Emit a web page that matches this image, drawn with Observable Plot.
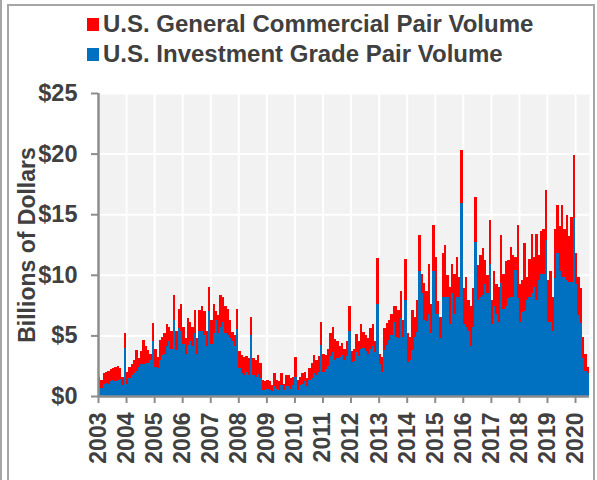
<!DOCTYPE html>
<html>
<head>
<meta charset="utf-8">
<script src="https://cdn.jsdelivr.net/npm/d3@7"></script>
<script src="https://cdn.jsdelivr.net/npm/@observablehq/plot@0.6"></script>
<style>
  html, body { margin: 0; padding: 0; background: #ffffff; }
  #wrap { position: relative; width: 597px; height: 480px; overflow: hidden; font-family: "Liberation Sans", Arial, sans-serif; }
  #chart { position: absolute; left: 0; top: 0; }
  .edge1 { position: absolute; left: 0; top: 0; width: 2px; height: 480px; background: #a6a6a6; z-index: 3; }
  .edge2 { position: absolute; left: 7px; top: 4px; width: 584px; height: 480px; border-left: 2px solid #a6a6a6; border-top: 2px solid #a6a6a6; border-right: 2px solid #a6a6a6; z-index: 3; }
  .leg { position: absolute; left: 87px; height: 26px; line-height: 26px; font-size: 24px; font-weight: bold; color: #404040; white-space: nowrap; z-index: 4; }
  .leg .sw { position: absolute; left: 0; top: 7px; width: 12px; height: 13px; }
  .leg .tx { position: absolute; left: 16px; top: 0; }
</style>
</head>
<body>
<div id="wrap">
  <div id="chart"></div>
  <div class="edge1"></div>
  <div class="edge2"></div>
  <div id="legend"></div>
</div>
<script>
// Monthly pair volume, Jan 2003 - Jun 2020, billions of dollars
const startYear = 2003;
const seriesNames = ["U.S. General Commercial Pair Volume", "U.S. Investment Grade Pair Volume"];
const seriesColors = ["#ff0000", "#0070c0"];
const yTicks = [0, 5, 10, 15, 20, 25];
const yearTicks = d3.range(2003, 2021);

// Top of each stacked bar (general commercial + investment grade)
const totalVolume = [
  1.6, 1.3, 1.9, 2.0, 2.1, 2.2, 2.3, 2.4, 2.5, 2.3, 1.6, 5.2,
  2.0, 2.4, 2.6, 3.0, 3.8, 3.1, 3.7, 4.6, 4.1, 3.8, 3.5, 6.0,
  3.9, 3.2, 4.6, 4.9, 5.2, 5.9, 5.7, 5.4, 8.3, 5.4, 7.2, 7.6,
  5.7, 4.8, 6.4, 6.1, 5.7, 7.1, 4.8, 7.1, 7.4, 7.0, 5.4, 9.0,
  6.3, 7.6, 7.0, 6.7, 8.3, 8.2, 7.4, 7.2, 6.3, 5.3, 5.0, 7.2,
  3.7, 3.4, 3.2, 3.3, 3.1, 6.5, 3.1, 3.0, 3.4, 2.7, 1.3, 1.2,
  1.3, 1.2, 0.9, 1.9, 1.3, 1.2, 1.9, 1.0, 1.7, 1.7, 1.5, 1.6,
  3.2, 1.3, 1.6, 1.9, 2.0, 1.5, 2.3, 2.7, 3.4, 3.0, 3.3, 6.1,
  3.5, 3.4, 3.9, 5.2, 5.7, 4.7, 4.5, 4.1, 4.4, 3.9, 4.5, 7.4,
  3.7, 3.9, 5.1, 4.5, 5.9, 5.3, 5.0, 4.8, 5.6, 5.9, 4.5, 11.4,
  3.5, 3.2, 5.6, 6.0, 6.3, 6.8, 7.4, 7.4, 7.1, 8.7, 6.3, 11.3,
  5.2, 4.9, 7.1, 6.5, 7.9, 13.3, 10.1, 9.3, 8.7, 10.9, 7.6, 14.1,
  11.5, 7.8, 6.5, 11.8, 12.5, 10.0, 9.0, 10.9, 10.1, 11.5, 9.8, 20.3,
  8.9, 9.8, 7.9, 7.4, 8.9, 16.4, 10.8, 11.6, 12.2, 11.2, 10.0, 14.5,
  7.9, 10.3, 9.2, 9.0, 13.3, 10.1, 11.1, 11.2, 12.3, 11.6, 11.5, 14.1,
  9.2, 9.6, 12.6, 9.8, 11.3, 13.4, 11.5, 13.4, 11.6, 13.6, 13.8, 17.0,
  9.6, 10.3, 8.2, 13.8, 15.8, 14.0, 15.8, 13.8, 14.9, 13.2, 14.8, 19.9,
  11.8, 9.8, 8.9, 4.9, 3.5, 2.4
];

// Investment grade pair volume (bottom segment)
const igVolume = [
  0.8, 0.7, 1.0, 1.1, 1.0, 1.2, 1.3, 1.2, 1.3, 1.4, 0.9, 4.0,
  1.0, 1.5, 1.7, 1.9, 2.1, 2.4, 2.6, 2.6, 2.7, 2.7, 3.0, 4.5,
  2.4, 2.3, 3.0, 3.4, 3.5, 4.1, 4.5, 3.9, 6.3, 3.8, 5.6, 5.4,
  4.3, 3.5, 4.2, 4.5, 4.1, 5.2, 3.5, 5.4, 5.4, 5.0, 4.1, 7.0,
  4.3, 5.2, 6.3, 5.2, 5.7, 6.1, 5.2, 5.0, 4.8, 4.5, 4.1, 5.5,
  2.3, 1.9, 1.7, 2.0, 1.7, 5.0, 1.7, 1.6, 1.8, 1.5, 0.5, 0.5,
  0.6, 0.5, 0.4, 0.8, 0.6, 0.5, 0.9, 0.5, 0.8, 0.8, 0.6, 0.9,
  1.6, 0.5, 0.9, 1.0, 1.2, 0.8, 1.3, 1.5, 1.9, 1.7, 2.0, 4.2,
  2.0, 2.2, 2.5, 3.3, 3.6, 3.0, 3.1, 3.2, 3.4, 3.0, 3.3, 5.4,
  2.8, 2.9, 3.6, 3.3, 3.9, 4.0, 3.7, 3.5, 3.9, 4.1, 3.6, 7.6,
  2.6, 2.0, 3.8, 4.2, 4.6, 5.0, 6.1, 4.9, 4.8, 6.4, 4.9, 7.9,
  2.8, 3.0, 3.8, 4.9, 5.3, 10.3, 8.5, 6.3, 6.2, 6.8, 5.2, 10.3,
  6.8, 6.8, 4.8, 8.2, 8.2, 8.2, 5.9, 8.5, 6.8, 8.2, 8.2, 15.9,
  5.9, 5.7, 5.4, 4.1, 5.7, 12.7, 7.9, 8.2, 8.3, 9.2, 8.5, 10.9,
  5.9, 7.4, 6.8, 6.1, 9.3, 7.2, 7.4, 8.1, 8.2, 8.2, 10.4, 8.1,
  6.1, 6.9, 7.0, 7.9, 8.2, 8.5, 9.0, 7.9, 9.6, 10.1, 10.1, 12.9,
  6.1, 6.1, 5.4, 9.7, 11.8, 10.3, 9.8, 9.8, 9.6, 9.4, 9.4, 14.7,
  9.2, 6.7, 6.0, 3.1, 2.1, 1.9
];

const rows = totalVolume.map((t, i) => ({
  start: new Date(Date.UTC(startYear, i, 1)),
  end: new Date(Date.UTC(startYear, i + 1, 1)),
  total: t,
  ig: igVolume[i]
}));

const xStart = new Date(Date.UTC(2003, 0, 1));
const xEnd = new Date(Date.UTC(2020, 6, 1));
const yearDates = yearTicks.map(y => new Date(Date.UTC(y, 0, 1)));
const axisGray = "#8c8c8c";
const textColor = "#404040";

const chart = Plot.plot({
  width: 597,
  height: 480,
  marginLeft: 98,
  marginRight: 8,
  marginTop: 93,
  marginBottom: 84,
  style: {
    fontFamily: "'Liberation Sans', Arial, sans-serif",
    fontSize: "23px",
    fontWeight: "bold",
    background: "transparent",
    overflow: "visible"
  },
  x: { type: "utc", domain: [xStart, xEnd] },
  y: { domain: [0, 25] },
  marks: [
    Plot.frame({ fill: "#f2f2f2", stroke: null }),
    Plot.gridX({ ticks: yearDates, stroke: "#ffffff", strokeOpacity: 1, strokeWidth: 2 }),
    Plot.gridY({ ticks: yTicks.slice(1), stroke: "#ffffff", strokeOpacity: 1, strokeWidth: 2 }),
    Plot.rectY(rows, { x1: "start", x2: "end", y: "total", fill: seriesColors[0], shapeRendering: "crispEdges" }),
    Plot.rectY(rows, { x1: "start", x2: "end", y: "ig", fill: seriesColors[1], shapeRendering: "crispEdges" }),
    Plot.ruleY([0], { stroke: axisGray, strokeWidth: 2.5 }),
    Plot.ruleX([xStart], { stroke: axisGray, strokeWidth: 2.5 }),
    Plot.axisY({
      ticks: yTicks, tickFormat: d => "$" + d, tickSize: 7, tickPadding: 14,
      stroke: axisGray, strokeWidth: 2, fill: textColor, fontSize: 23.5, fontWeight: "bold",
      label: null
    }),
    Plot.axisX({
      ticks: yearDates, tickFormat: d => String(d.getUTCFullYear()), tickSize: 7, tickPadding: 9,
      tickRotate: -90, stroke: axisGray, strokeWidth: 2, fill: textColor, fontSize: 23, fontWeight: "bold",
      label: null
    }),
    Plot.text(["Billions of Dollars"], {
      frameAnchor: "left", textAnchor: "middle", dx: -71, rotate: -90,
      fill: textColor, fontSize: 23, fontWeight: "bold"
    })
  ]
});
document.getElementById("chart").appendChild(chart);

// Legend
const legend = document.getElementById("legend");
seriesNames.forEach((name, i) => {
  const item = document.createElement("div");
  item.className = "leg";
  item.style.top = (11 + i * 30) + "px";
  const sw = document.createElement("div");
  sw.className = "sw";
  sw.style.background = seriesColors[i];
  const tx = document.createElement("div");
  tx.className = "tx";
  tx.textContent = name;
  item.appendChild(sw);
  item.appendChild(tx);
  legend.appendChild(item);
});
</script>
</body>
</html>
